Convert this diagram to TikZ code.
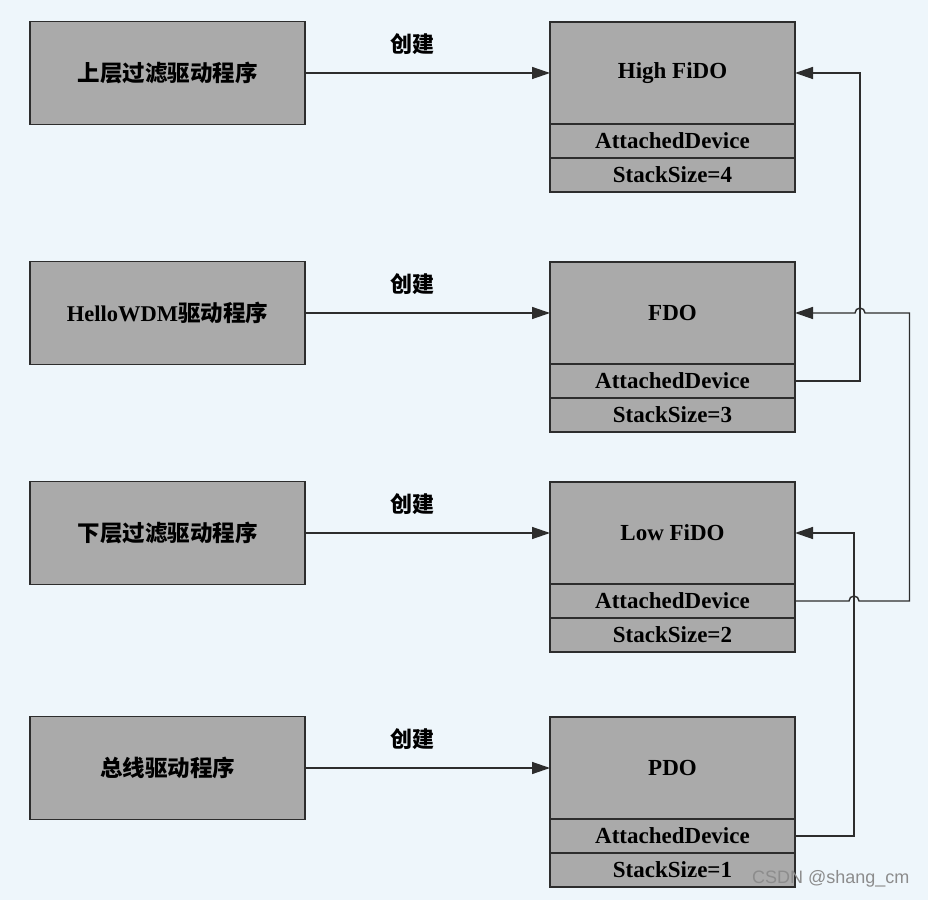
\documentclass[tikz,border=0pt]{standalone}
\usepackage{fontspec}
\setmainfont{Liberation Serif}
\setsansfont{Liberation Sans}
\newfontfamily\cjk{Noto Sans CJK SC}
\usetikzlibrary{arrows.meta,positioning,calc}

\definecolor{paper}{RGB}{238,246,251}
\definecolor{boxgray}{RGB}{170,170,170}
\definecolor{ink}{RGB}{45,45,45}
\definecolor{wmgray}{RGB}{140,140,140}

\tikzset{
  drvbox/.style={draw=ink, line width=1.4pt, fill=boxgray, inner sep=0pt, outer sep=0pt,
    minimum width=275pt, minimum height=103pt, font=\fontsize{22.5}{26}\selectfont\bfseries},
  objtop/.style={draw=ink, line width=1.4pt, fill=boxgray, inner sep=0pt, outer sep=0pt,
    minimum width=245pt, minimum height=102pt, font=\fontsize{23}{26}\selectfont\bfseries},
  objrow/.style={objtop, minimum height=34pt},
  link/.style={draw=ink, line width=1.4pt, -{Triangle[length=18pt,width=12pt]}},
  lab/.style={font=\cjk\fontsize{22}{25}\selectfont\bfseries}
}

\begin{document}
\begin{tikzpicture}[x=1pt, y=1pt]

  % ---- page: 928 x 900, y counted upwards ----
  \fill[paper] (0,0) rectangle (928,900);
  \useasboundingbox (0,0) rectangle (928,900);

  % ---- driver / device object rows: {name / y / driver / object / stack size} ----
  \foreach \nm/\yy/\drv/\obj/\ss in {
      hi/827/{{\cjk 上层过滤驱动程序}}/{High FiDO}/4,
      fdo/587/{HelloWDM{\cjk 驱动程序}}/{FDO}/3,
      lo/367/{{\cjk 下层过滤驱动程序}}/{Low FiDO}/2,
      pdo/132/{{\cjk 总线驱动程序}}/{PDO}/1} {
    \node[drvbox] (\nm-drv) at (167.5,\yy) {\drv};
    \node[objtop] (\nm) at (672.5,\yy) {\obj};
    \node[objrow, below=0pt of \nm] (\nm-att) {AttachedDevice};
    \node[objrow, below=0pt of \nm-att] (\nm-ss) {StackSize=\ss};
    \draw[link] (\nm-drv) -- (\nm)
      node[lab, pos=0.44, above=14pt] (\nm-lab) {创建};
  }

  % ---- AttachedDevice chains (right side) ----
  \coordinate (fdo-up) at ($(fdo-att.east)+(65,0)$);
  \coordinate (pdo-up) at ($(pdo-att.east)+(59,0)$);
  \coordinate (lo-up)  at ($(lo-att.east)+(114.5,0)$);
  \draw[link] (fdo-att.east) -- (fdo-up) |- (hi.east);
  \draw[link] (pdo-att.east) -- (pdo-up) |- (lo.east);

  % line hops where the low chain crosses the other two
  \coordinate (hopA) at (pdo-up |- lo-att.east);
  \coordinate (hopB) at (fdo-up |- fdo.east);
  \draw[link] (lo-att.east) -- ([xshift=-5pt]hopA)
    arc[start angle=180, end angle=0, radius=5pt] -- (lo-up)
    |- ([xshift=5pt]hopB) arc[start angle=0, end angle=180, radius=5pt] -- (fdo.east);

  \node[font=\sffamily\fontsize{18}{20}\selectfont, text=wmgray, anchor=east] (wm)
    at (913,21) {CSDN @shang\_cm};

\end{tikzpicture}
\end{document}
